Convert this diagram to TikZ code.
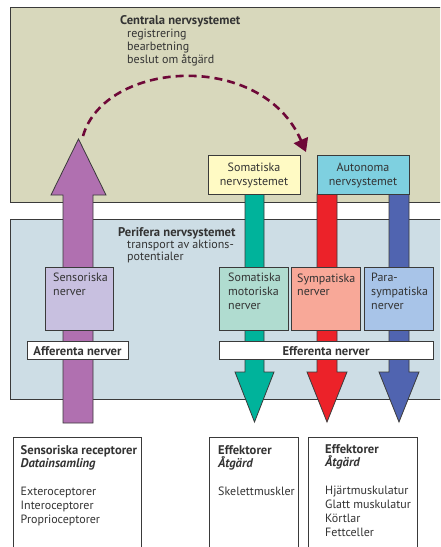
\documentclass[tikz,border=0pt]{standalone}
\usepackage{fontspec}
\setmainfont{PT Sans}
\usetikzlibrary{arrows.meta}
\definecolor{cnsbg}{HTML}{D8D8BC}
\definecolor{pnsbg}{HTML}{CDDDE5}
\definecolor{edge}{HTML}{3A3A3A}
\definecolor{txt}{HTML}{333333}
\definecolor{purp}{HTML}{B070B0}
\definecolor{tealc}{HTML}{00B39B}
\definecolor{redc}{HTML}{EC2229}
\definecolor{bluec}{HTML}{5064B0}
\definecolor{maroonc}{HTML}{6E0838}
\definecolor{yelc}{HTML}{FFFAC4}
\definecolor{cyanc}{HTML}{7ED0E0}
\definecolor{lavc}{HTML}{C8C0E0}
\definecolor{mintc}{HTML}{B0DCD0}
\definecolor{salmonc}{HTML}{F8A898}
\definecolor{lbluec}{HTML}{A8C4E8}
\begin{document}
\begin{tikzpicture}[x=1pt,y=-1pt,
  outl/.style={draw=edge, line width=0.8pt},
  boxn/.style={outl, anchor=north west, inner sep=0pt},
  lbl/.style={anchor=base west, inner sep=0pt, text=txt, font=\fontsize{12}{14}\selectfont},
  lblb/.style={lbl, font=\fontsize{12.6}{14}\selectfont\bfseries},
  lblbi/.style={lbl, font=\fontsize{12.6}{14}\selectfont\bfseries\itshape},
  ctr/.style={inner sep=0pt, text=txt, align=center, font=\fontsize{12}{14}\selectfont}
]
\clip (0,0) rectangle (440,547);
\useasboundingbox (0,0) rectangle (440,547);
\fill[white] (0,0) rectangle (440,547);
% panels
\draw[outl, fill=cnsbg] (10,7) rectangle (446,202);
\draw[outl, fill=pnsbg] (10,219) rectangle (446,399);
% block arrows
\draw[outl, fill=purp] (63,423) -- (63,195) -- (51,195) -- (78.5,139) -- (106,195) -- (93,195) -- (93,423) -- cycle;
\draw[outl, fill=tealc] (245,194) -- (245,372) -- (235,372) -- (254.5,422) -- (274,372) -- (264,372) -- (264,194) -- cycle;
\draw[outl, fill=redc] (317,194) -- (317,372) -- (307,372) -- (327,422) -- (347,372) -- (337,372) -- (337,194) -- cycle;
\draw[outl, fill=bluec] (389,194) -- (389,372) -- (379,372) -- (399,422) -- (419,372) -- (409,372) -- (409,194) -- cycle;
% dashed connector
\coordinate (arcA) at (83,136);
\coordinate (arcB) at (306,152);
\draw[maroonc, line width=2.6pt, dash pattern=on 8pt off 5pt, -{Triangle[length=13pt,width=15pt]}]
  (arcA) .. controls (105,60) and (262,50) .. (arcB);
% CNS texts
\node[lblb] (cnst) at (120,24) {Centrala nervsystemet};
\node[lbl] (cns1) at (127,37) {registrering};
\node[lbl] (cns2) at (127,50) {bearbetning};
\node[lbl] (cns3) at (127,63.5) {beslut om åtgärd};
% top boxes
\node[boxn, fill=yelc, minimum width=92pt, minimum height=39pt] (somsys) at (208,155) {};
\node[ctr] (somsyst) at (254,175) {Somatiska\\nervsystemet};
\node[boxn, fill=cyanc, minimum width=92pt, minimum height=39pt] (autsys) at (317,155) {};
\node[ctr] (autsyst) at (363,175) {Autonoma\\nervsystemet};
% PNS texts
\node[lblb] (pnst) at (118,236) {Perifera nervsystemet};
\node[lbl] (pns1) at (127,248) {transport av aktions-};
\node[lbl] (pns2) at (127,260) {potentialer};
% nerve boxes
\node[boxn, fill=lavc, minimum width=68pt, minimum height=63pt] (sens) at (45,267) {};
\node[lbl] (sens1) at (53,281) {Sensoriska};
\node[lbl] (sens2) at (53,295) {nerver};
\node[boxn, fill=mintc, minimum width=69pt, minimum height=63pt] (smot) at (219,267) {};
\node[lbl] (smot1) at (228,281) {Somatiska};
\node[lbl] (smot2) at (228,295) {motoriska};
\node[lbl] (smot3) at (228,309) {nerver};
\node[boxn, fill=salmonc, minimum width=69pt, minimum height=63pt] (symp) at (291,267) {};
\node[lbl] (symp1) at (297,282) {Sympatiska};
\node[lbl] (symp2) at (297,295) {nerver};
\node[boxn, fill=lbluec, minimum width=69pt, minimum height=63pt] (psym) at (364,267) {};
\node[lbl] (psym1) at (371,281) {Para-};
\node[lbl] (psym2) at (371,295) {sympatiska};
\node[lbl] (psym3) at (371,309) {nerver};
% afferent / efferent bars
\node[boxn, fill=white, minimum width=101pt, minimum height=18pt] (aff) at (27,341) {};
\node[lblb, anchor=base] (afft) at (77.5,355) {Afferenta nerver};
\node[boxn, fill=white, minimum width=214pt, minimum height=18pt] (eff) at (219,341) {};
\node[lblb, anchor=base] (efft) at (326,355) {Efferenta nerver};
% bottom boxes
\draw[outl, fill=white] (13,437) rectangle (141,560);
\draw[outl, fill=white] (209,437) rectangle (298,560);
\draw[outl, fill=white] (308,437) rectangle (417,560);
\node[lblb] (r1) at (20.5,454) {Sensoriska receptorer};
\node[lblbi] (r2) at (20.5,467) {Datainsamling};
\node[lbl] (r3) at (20.5,495) {Exteroceptorer};
\node[lbl] (r4) at (20.5,509) {Interoceptorer};
\node[lbl] (r5) at (20.5,523) {Proprioceptorer};
\node[lblb] (e1) at (218,454) {Effektorer};
\node[lblbi] (e2) at (218,467) {Åtgärd};
\node[lbl] (e3) at (218,495) {Skelettmuskler};
\node[lblb] (f1) at (325,453) {Effektorer};
\node[lblbi] (f2) at (325,466) {Åtgärd};
\node[lbl] (f3) at (325,494) {Hjärtmuskulatur};
\node[lbl] (f4) at (325,508) {Glatt muskulatur};
\node[lbl] (f5) at (325,522) {Körtlar};
\node[lbl] (f6) at (325,536) {Fettceller};
\end{tikzpicture}
\end{document}
